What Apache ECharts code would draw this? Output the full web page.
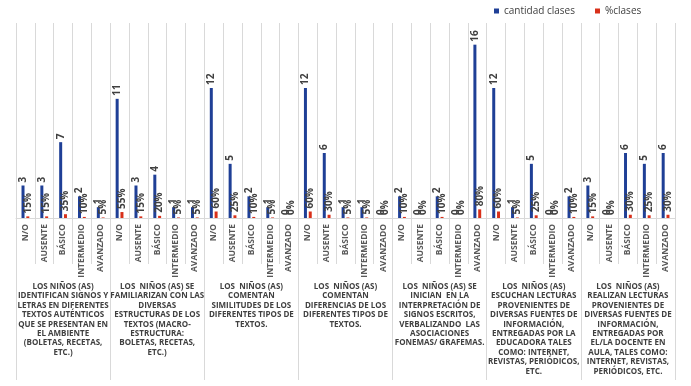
<!DOCTYPE html>
<html>
<head>
<meta charset="utf-8">
<script src="https://cdn.jsdelivr.net/npm/echarts@6/dist/echarts.min.js"></script>
<style>
html, body { margin: 0; padding: 0; background: #fff; }
#chart { width: 691px; height: 386px; }
</style>
</head>
<body>
<div id="chart"></div>
<script>
// niveles de logro por indicador
const categories = ['N/O', 'AUSENTE', 'BÁSICO', 'INTERMEDIO', 'AVANZADO'];
const groups = [
    'LOS NIÑOS (AS)\nIDENTIFICAN SIGNOS Y\nLETRAS EN DIFERENTES\nTEXTOS AUTÉNTICOS\nQUE SE PRESENTAN EN\nEL AMBIENTE\n(BOLETAS, RECETAS,\nETC.)',
    'LOS  NIÑOS (AS) SE\nFAMILIARIZAN CON LAS\nDIVERSAS\nESTRUCTURAS DE LOS\nTEXTOS (MACRO-\nESTRUCTURA:\nBOLETAS, RECETAS,\nETC.)',
    'LOS  NIÑOS (AS)\nCOMENTAN\nSIMILITUDES DE LOS\nDIFERENTES TIPOS DE\nTEXTOS.',
    'LOS  NIÑOS (AS)\nCOMENTAN\nDIFERENCIAS DE LOS\nDIFERENTES TIPOS DE\nTEXTOS.',
    'LOS  NIÑOS (AS) SE\nINICIAN  EN LA\nINTERPRETACIÓN DE\nSIGNOS ESCRITOS,\nVERBALIZANDO  LAS\nASOCIACIONES\nFONEMAS/ GRAFEMAS.',
    'LOS  NIÑOS (AS)\nESCUCHAN LECTURAS\nPROVENIENTES DE\nDIVERSAS FUENTES DE\nINFORMACIÓN,\nENTREGADAS POR LA\nEDUCADORA TALES\nCOMO: INTERNET,\nREVISTAS, PERIÓDICOS,\nETC.',
    'LOS  NIÑOS (AS)\nREALIZAN LECTURAS\nPROVENIENTES DE\nDIVERSAS FUENTES DE\nINFORMACIÓN,\nENTREGADAS POR\nEL/LA DOCENTE EN\nAULA, TALES COMO:\nINTERNET, REVISTAS,\nPERIÓDICOS, ETC.'
];
const cantidadClases = [
    3, 3, 7, 2, 1,
    11, 3, 4, 1, 1,
    12, 5, 2, 1, 0,
    12, 6, 1, 1, 0,
    2, 0, 2, 0, 16,
    12, 1, 5, 0, 2,
    3, 0, 6, 5, 6
];
const porcentajeClases = [
    0.15, 0.15, 0.35, 0.10, 0.05,
    0.55, 0.15, 0.20, 0.05, 0.05,
    0.60, 0.25, 0.10, 0.05, 0.00,
    0.60, 0.30, 0.05, 0.05, 0.00,
    0.10, 0.00, 0.10, 0.00, 0.80,
    0.60, 0.05, 0.25, 0.00, 0.10,
    0.15, 0.00, 0.30, 0.25, 0.30
];

let xData = [];
groups.forEach(() => { xData = xData.concat(categories); });

const chart = echarts.init(document.getElementById('chart'));
const lineColor = '#D9D9D9';
const font = 'Open Sans';

chart.setOption({
    animation: false,
    legend: {
        top: 1,
        left: 489,
        itemWidth: 5,
        itemHeight: 5,
        itemGap: 20,
        icon: 'rect',
        textStyle: { color: '#404040', fontSize: 10, fontFamily: font }
    },
    grid: { left: 16, right: 16, top: 23, bottom: 168, containLabel: false },
    xAxis: [
        {
            type: 'category',
            data: xData,
            axisLine: { show: true, lineStyle: { color: lineColor } },
            axisTick: { show: true, interval: 0, length: 46, lineStyle: { color: lineColor } },
            splitLine: { show: true, interval: 0, lineStyle: { color: lineColor } },
            axisLabel: {
                interval: 0,
                rotate: 90,
                margin: 6,
                color: '#595959',
                fontSize: 8.5,
                fontWeight: 'bold',
                fontFamily: font
            }
        },
        {
            type: 'category',
            data: groups,
            position: 'bottom',
            axisLine: { show: false },
            axisTick: { show: true, interval: 0, length: 162, lineStyle: { color: lineColor } },
            splitLine: { show: false },
            axisLabel: {
                interval: 0,
                margin: 64,
                color: '#404040',
                fontSize: 8,
                lineHeight: 9.4,
                fontWeight: 'bold',
                fontFamily: font,
                align: 'center'
            }
        }
    ],
    yAxis: {
        type: 'value',
        min: 0,
        max: 18,
        show: false,
        splitLine: { show: false }
    },
    series: [
        {
            name: 'cantidad clases',
            type: 'bar',
            data: cantidadClases,
            barWidth: 3,
            barGap: '60%',
            itemStyle: { color: '#1F3F96' },
            label: {
                show: true,
                position: 'top',
                distance: 3,
                rotate: 90,
                align: 'left',
                verticalAlign: 'middle',
                color: '#404040',
                fontSize: 10,
                fontWeight: 'bold',
                fontFamily: font
            }
        },
        {
            name: '%clases',
            type: 'bar',
            data: porcentajeClases,
            barWidth: 3,
            itemStyle: { color: '#D8301A' },
            label: {
                show: true,
                position: 'top',
                distance: 3,
                rotate: 90,
                align: 'left',
                verticalAlign: 'middle',
                color: '#404040',
                fontSize: 10,
                fontWeight: 'bold',
                fontFamily: font,
                formatter: p => Math.round(p.value * 100) + '%'
            }
        }
    ]
});
</script>
</body>
</html>
